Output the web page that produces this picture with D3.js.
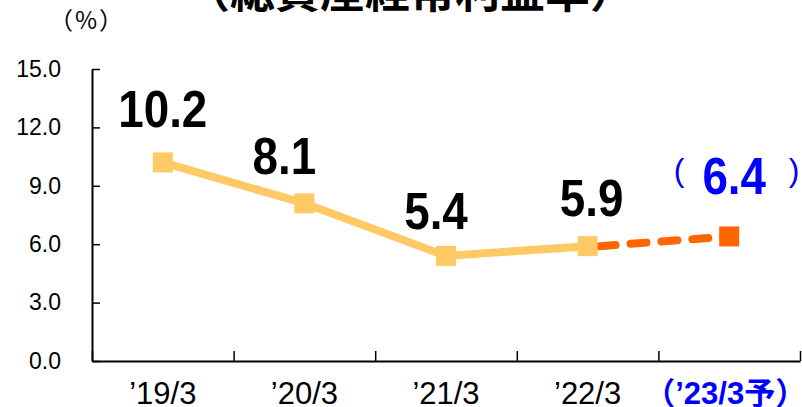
<!DOCTYPE html>
<html>
<head>
<meta charset="utf-8">
<script src="https://cdn.jsdelivr.net/npm/d3@7"></script>
<style>
  body { margin: 0; background: #fff; }
  svg { display: block; }
  text { font-family: "Liberation Sans", "Noto Sans CJK JP", sans-serif; }
</style>
</head>
<body>
<svg id="chart" width="802" height="407"></svg>
<script>
var title = "（総資産経常利益率）";
var unitLabel = "（%）";
var categories = ["\u201919/3", "\u201920/3", "\u201921/3", "\u201922/3", "（\u201923/3予）"];
var actualValues = [10.2, 8.1, 5.4, 5.9];
var forecastValue = 6.4;
var yTicks = [0, 3, 6, 9, 12, 15];

// manual label nudges (like the original hand placed labels)
var labelDx = [0, -20, -10, 4, 5];
var labelDy = [35, 29, 27, 30, 42];

var svg = d3.select("#chart");
var plotLeft = 92, plotRight = 800, plotTop = 69, plotBottom = 361;

var x = d3.scaleBand().domain(categories).range([plotLeft, plotRight]);
var xEdge = d3.scaleLinear().domain([0, categories.length]).range([plotLeft, plotRight]);
var y = d3.scaleLinear().domain([0, 15]).range([plotBottom, plotTop]);

function cx(i) { return x(categories[i]) + x.bandwidth() / 2; }

// title (cut at the top edge)
svg.append("text")
    .attr("x", 410)
    .attr("y", 8)
    .attr("text-anchor", "middle")
    .style("font-family", "'Noto Sans CJK JP'")
    .style("font-weight", "bold")
    .style("font-size", "45px")
    .text(title);

svg.append("text")
    .attr("x", 87)
    .attr("y", 29)
    .attr("text-anchor", "middle")
    .style("font-family", "'Noto Sans CJK JP'")
    .style("font-size", "24px")
    .style("letter-spacing", "2px")
    .text(unitLabel);

// y axis
var yAxis = svg.append("g")
    .attr("transform", "translate(" + plotLeft + ",0)")
    .call(d3.axisLeft(y).tickValues(yTicks).tickFormat(d3.format(".1f"))
        .tickSize(-8).tickSizeOuter(0).tickPadding(31));
yAxis.select(".domain").attr("stroke-width", 2);
yAxis.selectAll(".tick line").attr("stroke-width", 1.5);
yAxis.selectAll("text").style("font-size", "23px").style("font-family", "'Liberation Sans'").attr("fill", "#000");

// x axis: ticks at the category edges
var xAxis = svg.append("g")
    .attr("transform", "translate(0," + plotBottom + ")")
    .call(d3.axisBottom(xEdge).ticks(categories.length).tickFormat("")
        .tickSize(-10).tickSizeOuter(0));
xAxis.select(".domain").attr("stroke-width", 2);
xAxis.selectAll(".tick line").attr("stroke-width", 1.5);

var xLabels = svg.append("g")
    .attr("transform", "translate(0," + plotBottom + ")")
    .call(d3.axisBottom(x).tickSize(0).tickPadding(21));
xLabels.select(".domain").remove();
xLabels.selectAll("text")
    .style("font-size", "31px")
    .attr("fill", function(d, i) { return i == categories.length - 1 ? "#0000ff" : "#000"; })
    .style("font-weight", function(d, i) { return i == categories.length - 1 ? "bold" : "normal"; });
xLabels.selectAll("text").filter(function(d, i) { return i == categories.length - 1; })
    .attr("x", -4);

// forecast dashed segment
var last = actualValues.length - 1;
svg.append("line")
    .attr("x1", cx(last) + 12)
    .attr("y1", y(actualValues[last]))
    .attr("x2", cx(last + 1))
    .attr("y2", y(forecastValue))
    .attr("stroke", "#ff6600")
    .attr("stroke-width", 8)
    .attr("stroke-linecap", "round")
    .attr("stroke-dasharray", "16,15");

// actual line
var line = d3.line()
    .x(function(d, i) { return cx(i); })
    .y(function(d) { return y(d); });

svg.append("path")
    .datum(actualValues)
    .attr("d", line)
    .attr("fill", "none")
    .attr("stroke", "#ffc966")
    .attr("stroke-width", 8);

svg.selectAll("rect.actual")
    .data(actualValues)
    .enter().append("rect")
    .attr("class", "actual")
    .attr("x", function(d, i) { return cx(i) - 10; })
    .attr("y", function(d) { return y(d) - 10; })
    .attr("width", 20)
    .attr("height", 20)
    .attr("fill", "#ffc966");

svg.append("rect")
    .attr("x", cx(last + 1) - 10)
    .attr("y", y(forecastValue) - 10)
    .attr("width", 20)
    .attr("height", 20)
    .attr("fill", "#ff6600");

// value labels
function valueLabel(i, v, color) {
    var lx = cx(i) + labelDx[i];
    var ly = y(v) - labelDy[i];
    svg.append("text")
        .attr("transform", "translate(" + lx + "," + ly + ") scale(0.88,1)")
        .attr("text-anchor", "middle")
        .style("font-weight", "bold")
        .style("font-size", "52px")
        .attr("fill", color)
        .text(d3.format(".1f")(v));
    return [lx, ly];
}

actualValues.forEach(function(v, i) { valueLabel(i, v, "#000"); });
var fp = valueLabel(last + 1, forecastValue, "#0000ff");

svg.append("text")
    .attr("x", fp[0] - 55)
    .attr("y", fp[1] - 13)
    .attr("text-anchor", "middle")
    .style("font-size", "32px")
    .attr("fill", "#0000ff")
    .text("(");
svg.append("text")
    .attr("x", fp[0] + 60)
    .attr("y", fp[1] - 13)
    .attr("text-anchor", "middle")
    .style("font-size", "32px")
    .attr("fill", "#0000ff")
    .text(")");
</script>
</body>
</html>
